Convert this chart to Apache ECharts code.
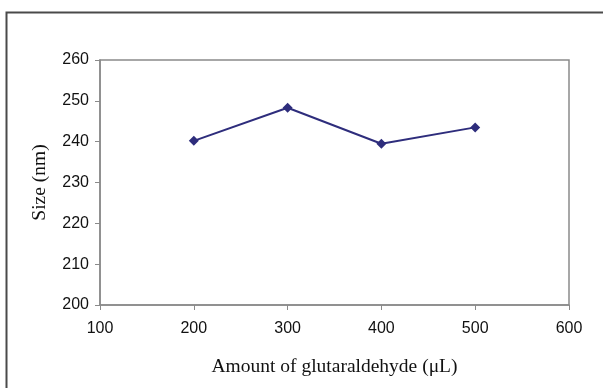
<!DOCTYPE html>
<html><head><meta charset="utf-8">
<script src="https://cdn.jsdelivr.net/npm/echarts@6/dist/echarts.min.js"></script>
<style>html,body{margin:0;padding:0;background:#fff}#c{width:603px;height:388px}</style>
</head><body><div id="c"></div>
<script>
const xValues = [200, 300, 400, 500];
const sizes = [240.2, 248.3, 239.5, 243.5];
const xTitle = 'Amount of glutaraldehyde (\u03bcL)';
const yTitle = 'Size (nm)';

const chart = echarts.init(document.getElementById('c'));
chart.setOption({
  animation: false,
  backgroundColor: '#fff',
  graphic: [{
    type: 'rect', shape: {x: 6.5, y: 12.5, width: 640, height: 400},
    style: {fill: 'none', stroke: '#4a4a4a', lineWidth: 2}, z: 100
  }],
  grid: {left: 100, right: 34, top: 60, bottom: 83, show: true, borderColor: '#8a8a8a', borderWidth: 1.5, backgroundColor: '#fff'},
  xAxis: {
    type: 'value', min: 100, max: 600, interval: 100,
    name: xTitle, nameLocation: 'middle', nameGap: 52,
    nameTextStyle: {fontFamily: 'Liberation Serif', fontSize: 19.5, color: '#111'},
    axisLine: {show: true, lineStyle: {color: '#8a8a8a', width: 1.5}},
    axisTick: {show: true, inside: false, length: 5, lineStyle: {color: '#8a8a8a'}},
    axisLabel: {fontFamily: 'Liberation Sans', fontSize: 16, color: '#111', margin: 16},
    splitLine: {show: false}
  },
  yAxis: {
    type: 'value', min: 200, max: 260, interval: 10,
    name: yTitle, nameLocation: 'middle', nameGap: 50, nameRotate: 90,
    nameTextStyle: {fontFamily: 'Liberation Serif', fontSize: 19.5, color: '#111'},
    axisLine: {show: true, lineStyle: {color: '#8a8a8a', width: 1.5}},
    axisTick: {show: true, inside: false, length: 5, lineStyle: {color: '#8a8a8a'}},
    axisLabel: {fontFamily: 'Liberation Sans', fontSize: 16, color: '#111', margin: 11},
    splitLine: {show: false}
  },
  series: [{
    type: 'line',
    data: xValues.map((x, i) => [x, sizes[i]]),
    symbol: 'diamond', symbolSize: 10,
    lineStyle: {color: '#2e2d7c', width: 2},
    itemStyle: {color: '#2e2d7c'}
  }]
});
</script></body></html>
